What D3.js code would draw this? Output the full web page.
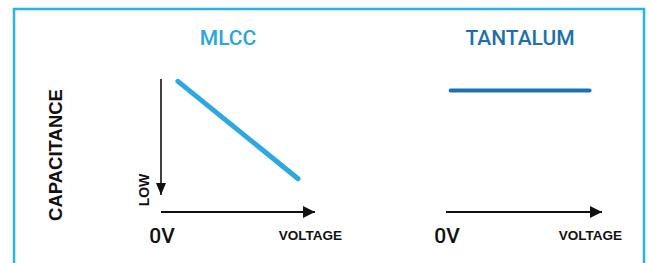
<!DOCTYPE html>
<html>
<head>
<meta charset="utf-8">
<script src="https://cdn.jsdelivr.net/npm/d3@7"></script>
<style>
  body { margin: 0; background: #fff; }
  svg { display: block; }
</style>
</head>
<body>
<svg id="chart"></svg>
<script>
// データ
var titles = ["MLCC", "TANTALUM"];
var xLabels = ["0V", "VOLTAGE"];
var yLabels = ["CAPACITANCE", "LOW"];
var mlccVoltage = [1.1, 8.9];
var mlccCap = [9.8, 1.4];
var tantVoltage = [0.3, 9.2];
var tantCap = [9.0, 9.0];

var width = 649, height = 263;

var svg = d3.select("#chart")
  .attr("width", width)
  .attr("height", height);

// 枠
svg.append("rect")
  .attr("x", 14).attr("y", 9)
  .attr("width", 630).attr("height", 280)
  .attr("fill", "none")
  .attr("stroke", "#2bb3e8")
  .attr("stroke-width", 2.5);

// 矢印マーカー
var defs = svg.append("defs");
defs.append("marker")
  .attr("id", "arrowX")
  .attr("viewBox", "0 0 12 12")
  .attr("refX", 12).attr("refY", 6)
  .attr("markerWidth", 12).attr("markerHeight", 12)
  .attr("markerUnits", "userSpaceOnUse")
  .attr("orient", "auto")
  .append("path")
  .attr("d", "M0,0 L12,6 L0,12 Z")
  .attr("fill", "#111");
defs.append("marker")
  .attr("id", "arrowY")
  .attr("viewBox", "0 0 12 10")
  .attr("refX", 12).attr("refY", 5)
  .attr("markerWidth", 12).attr("markerHeight", 10)
  .attr("markerUnits", "userSpaceOnUse")
  .attr("orient", "auto")
  .append("path")
  .attr("d", "M0,0 L12,5 L0,10 Z")
  .attr("fill", "#111");

// 共通の縦スケール
var yScale = d3.scaleLinear().domain([0, 10]).range([195, 79]);
var axisY = 212;

var panels = [
  {title: titles[0], color: "#2ea9df", titleColor: "#2aa6de", titleX: 228,
   x: d3.scaleLinear().domain([0, 10]).range([161, 315]),
   v: mlccVoltage, c: mlccCap, sw: 5, yAxis: true, voltEnd: 342},
  {title: titles[1], color: "#1f70b0", titleColor: "#1e6fae", titleX: 520,
   x: d3.scaleLinear().domain([0, 10]).range([446, 602]),
   v: tantVoltage, c: tantCap, sw: 4, yAxis: false, voltEnd: 622}
];

panels.forEach(function(p) {
  var g = svg.append("g");

  // タイトル
  g.append("text")
    .attr("x", p.titleX).attr("y", 45)
    .attr("text-anchor", "middle")
    .attr("font-family", "Roboto, sans-serif")
    .attr("font-weight", 500)
    .attr("font-size", 21)
    .attr("fill", p.titleColor)
    .text(p.title);

  // x軸（矢印）
  g.append("line")
    .attr("x1", p.x(0)).attr("x2", p.x(10))
    .attr("y1", axisY).attr("y2", axisY)
    .attr("stroke", "#111").attr("stroke-width", 2.2)
    .attr("marker-end", "url(#arrowX)");

  // y軸（下向きの矢印）
  if (p.yAxis) {
    g.append("line")
      .attr("x1", p.x(0)).attr("x2", p.x(0))
      .attr("y1", yScale(10)).attr("y2", yScale(0))
      .attr("stroke", "#111").attr("stroke-width", 1.6)
      .attr("marker-end", "url(#arrowY)");
    g.append("text")
      .attr("transform", "translate(" + (p.x(0) - 17) + ",190) rotate(-90)")
      .attr("text-anchor", "middle")
      .attr("dominant-baseline", "central")
      .attr("font-family", "Liberation Sans, Arial, sans-serif")
      .attr("font-weight", "bold")
      .attr("font-size", 14)
      .attr("fill", "#111")
      .text(yLabels[1]);
  }

  // 軸ラベル
  g.append("text")
    .attr("x", p.x(0) + 1).attr("y", 243)
    .attr("text-anchor", "middle")
    .attr("font-family", "Roboto, sans-serif")
    .attr("font-weight", 500)
    .attr("font-size", 21)
    .attr("fill", "#111")
    .text(xLabels[0]);
  g.append("text")
    .attr("x", p.voltEnd).attr("y", 240)
    .attr("text-anchor", "end")
    .attr("font-family", "Liberation Sans, Arial, sans-serif")
    .attr("font-weight", "bold")
    .attr("font-size", 13.5)
    .attr("fill", "#111")
    .text(xLabels[1]);

  // 線
  var pts = p.v.map(function(d, i) { return {v: d, c: p.c[i]}; });
  var line = d3.line()
    .x(function(d) { return p.x(d.v); })
    .y(function(d) { return yScale(d.c); });
  g.append("path")
    .datum(pts)
    .attr("d", line)
    .attr("fill", "none")
    .attr("stroke", p.color)
    .attr("stroke-width", p.sw)
    .attr("stroke-linecap", "round");
});

// 縦軸タイトル
svg.append("text")
  .attr("transform", "translate(55,155) rotate(-90)")
  .attr("text-anchor", "middle")
  .attr("dominant-baseline", "central")
  .attr("font-family", "Liberation Sans, Arial, sans-serif")
  .attr("font-weight", "bold")
  .attr("font-size", 18.5)
  .attr("fill", "#111")
  .text(yLabels[0]);
</script>
</body>
</html>
